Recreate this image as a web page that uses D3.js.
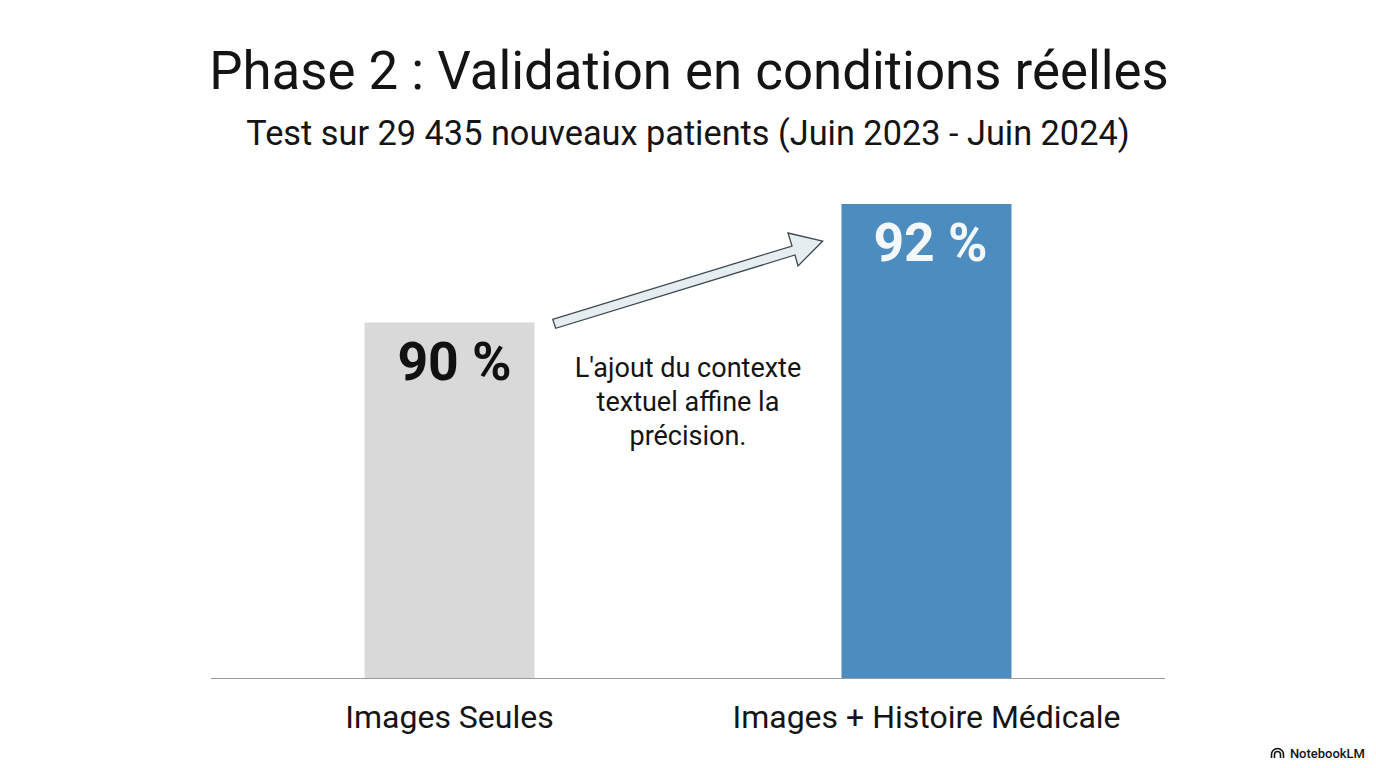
<!DOCTYPE html>
<html lang="fr">
  <head>
    <meta charset="utf-8">
    <style>
      html, body { margin: 0; padding: 0; background: #fff; }
      text { font-family: Roboto, "Liberation Sans", sans-serif; fill: #141414; }
    </style>
  </head>
  <body>
    <svg id="container" width="1376" height="768"></svg>
    <script src="https://d3js.org/d3.v7.min.js"></script>
    <script>
const categories = ["Images Seules", "Images + Histoire Médicale"]
const values = [90, 92]
const valueLabels = ["90 %", "92 %"]
const noteLines = ["L'ajout du contexte", "textuel affine la", "précision."]

let svg = d3.select("#container")

// the bars in the picture do not start at zero, baseline is around 84
let y = d3.scaleLinear().domain([84, 92]).range([678, 204])
let x = d3.scalePoint().domain(categories).range([449.5, 926.5])
let barWidth = 170

svg.append("text").attr("x", 689).attr("y", 89)
    .attr("text-anchor", "middle").attr("font-size", 52.8)
    .text("Phase 2 : Validation en conditions réelles")
svg.append("text").attr("x", 688).attr("y", 145)
    .attr("text-anchor", "middle").attr("font-size", 34.3)
    .text("Test sur 29 435 nouveaux patients (Juin 2023 - Juin 2024)")

svg.selectAll("rect.bar")
    .data(categories)
    .enter()
    .append("rect")
        .attr("class", "bar")
        .attr("x", (d) => x(d) - barWidth / 2)
        .attr("y", (d, i) => y(values[i]))
        .attr("width", barWidth)
        .attr("height", (d, i) => y(84) - y(values[i]))
        .attr("fill", (d, i) => i == 0 ? "#d9d9d9" : "#4c8cbf")

svg.selectAll("text.val")
    .data(valueLabels)
    .enter()
    .append("text")
        .attr("class", "val")
        .attr("x", (d, i) => x(categories[i]) + (i == 0 ? 5 : 4))
        .attr("y", (d, i) => y(values[i]) + 57)
        .attr("text-anchor", "middle")
        .attr("font-size", 53.5)
        .attr("font-weight", 700)
        .style("fill", (d, i) => i == 0 ? "#111" : "#f4f8fb")
        .text((d) => d)

svg.append("line")
    .attr("x1", 211).attr("x2", 1165)
    .attr("y1", 678.5).attr("y2", 678.5)
    .attr("stroke", "#9a9a9a").attr("stroke-width", 1.2)

svg.selectAll("text.cat")
    .data(categories)
    .enter()
    .append("text")
        .attr("class", "cat")
        .attr("x", (d) => x(d))
        .attr("y", 728)
        .attr("text-anchor", "middle")
        .attr("font-size", 32)
        .text((d) => d)

// arrow between the two bars
svg.append("path")
    .attr("d", d3.line()([[552.7, 319.3], [792, 246], [788, 233], [822.7, 241], [798, 266], [795, 255], [555.7, 328.3]]) + "Z")
    .attr("fill", "#e6edf0").attr("stroke", "#3d4a52").attr("stroke-width", 1.3)

svg.selectAll("text.note")
    .data(noteLines)
    .enter()
    .append("text")
        .attr("class", "note")
        .attr("x", 688)
        .attr("y", (d, i) => 377 + i * 34)
        .attr("text-anchor", "middle")
        .attr("font-size", 27)
        .text((d) => d)

svg.append("text").attr("x", 1365).attr("y", 758)
    .attr("text-anchor", "end").attr("font-size", 13).attr("font-weight", 500)
    .text("NotebookLM")

// little notebooklm logo, two nested arches
let logo = d3.path()
for (let r of [6, 3]) {
    logo.moveTo(1277.5 - r, 758)
    logo.lineTo(1277.5 - r, 754.5)
    logo.arc(1277.5, 754.5, r, Math.PI, 0)
    logo.lineTo(1277.5 + r, 758)
}
svg.append("path").attr("d", logo.toString())
    .attr("fill", "none").attr("stroke", "#141414").attr("stroke-width", 1.6)
    </script>
  </body>
</html>
